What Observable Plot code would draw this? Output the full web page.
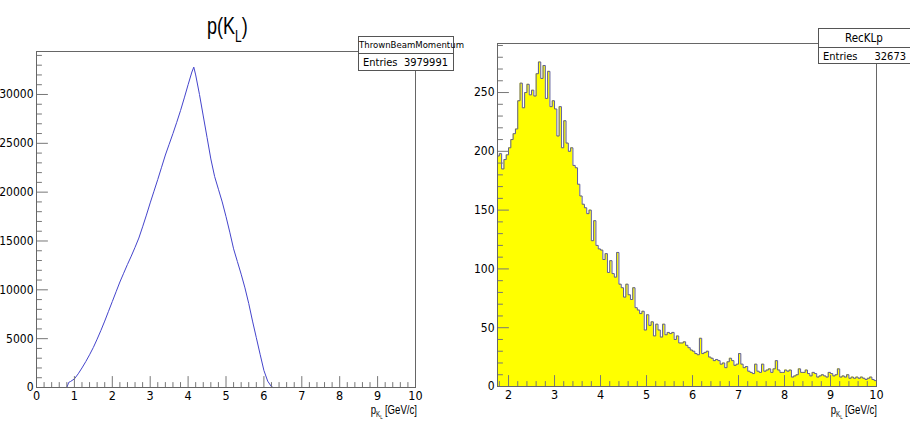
<!DOCTYPE html>
<html><head><meta charset="utf-8">
<script src="https://cdn.jsdelivr.net/npm/d3@7"></script>
<script src="https://cdn.jsdelivr.net/npm/@observablehq/plot@0.6"></script>
<style>
body{margin:0;background:#fff;}
#wrap{position:relative;width:910px;height:421px;overflow:hidden;background:#fff;
  font-family:"DejaVu Sans Condensed","Liberation Sans Narrow",sans-serif;color:#000;}
.panel{position:absolute;top:0;width:455px;height:421px;}
.title{position:absolute;font-family:"Liberation Sans",Arial,sans-serif;font-size:24px;line-height:1;white-space:nowrap;
  transform:scaleX(0.75);transform-origin:left top;}
.title sub{font-size:16px;vertical-align:-8px;line-height:1;}
.axt{position:absolute;width:140px;font-family:"Liberation Sans",Arial,sans-serif;font-size:13px;line-height:1;white-space:nowrap;
  text-align:right;transform:scaleX(0.74);transform-origin:right top;}
.axt .s1{font-size:8.5px;position:relative;top:3px;}
.axt .s2{font-size:6px;position:relative;top:5px;margin-right:3px;}
.stats{position:absolute;background:#fff;border:1px solid #555;box-sizing:border-box;}
.stats .hd{border-bottom:1px solid #555;text-align:center;white-space:nowrap;}
.stats .row{display:flex;justify-content:space-between;white-space:nowrap;}
</style></head><body>
<div id="wrap">
  <div id="left" class="panel" style="left:0"></div>
  <div id="right" class="panel" style="left:455px"></div>
  <div class="title" style="left:207px;top:14px;">p(K<sub>L</sub>)</div>
  <div class="axt" style="left:277px;top:403px;">p<span class="s1">K</span><span class="s2">L</span>[GeV/c]</div>
  <div class="axt" style="left:737px;top:403px;">p<span class="s1">K</span><span class="s2">L</span>[GeV/c]</div>
  <div class="stats" style="left:358px;top:36px;width:96px;height:35px;">
    <div class="hd" style="font-size:9.5px;height:16px;line-height:16px;">ThrownBeamMomentum</div>
    <div class="row" style="font-size:11px;line-height:17px;padding:0 5px 0 4px;"><span>Entries</span><span>3979991</span></div>
  </div>
  <div class="stats" style="left:818px;top:28px;width:96px;height:36px;">
    <div class="hd" style="font-size:11.5px;height:18px;line-height:18px;padding-right:4px;">RecKLp</div>
    <div class="row" style="font-size:11px;line-height:17px;padding:0 7px 0 4px;"><span>Entries</span><span>32673</span></div>
  </div>
</div>
<script>
// ---- Left panel: thrown beam momentum p(K_L) ----
const thrownP = [0.8,0.85,0.9,1.0,1.1,1.2,1.3,1.4,1.5,1.6,1.7,1.8,1.9,2.0,2.1,2.2,2.3,2.4,2.5,2.6,2.7,2.8,2.9,3.0,3.1,3.2,3.3,3.4,3.5,3.6,3.7,3.8,3.9,4.0,4.1,4.15,4.2,4.3,4.4,4.5,4.6,4.7,4.8,4.9,5.0,5.1,5.2,5.3,5.4,5.5,5.6,5.7,5.8,5.9,6.0,6.1,6.2,6.25];
const thrownCounts = [0,520,620,880,1400,2000,2650,3350,4100,4950,5850,6800,7800,8800,9800,10800,11700,12600,13450,14350,15300,16450,17650,18900,20100,21300,22550,23800,24900,26000,27150,28350,29650,31000,32300,32800,32000,30000,27800,25600,23400,21600,20300,19000,17500,15900,14200,12900,11600,10200,8600,6800,5100,3400,1750,650,80,0];
const leftXTicks = [0,1,2,3,4,5,6,7,8,9,10];
const leftYTicks = [0,5000,10000,15000,20000,25000,30000];

// ---- Right panel: reconstructed K_L momentum (RecKLp) ----
const recBinStart = 1.75;
const recBinWidth = 0.05;
const recCounts = [
 196,198,185,193,197,203,210,215,219,243,258,237,250,257,248,252,247,266,276,262,
 273,245,268,238,243,236,213,238,203,226,207,200,203,188,186,172,162,155,152,147,
 150,124,141,120,117,116,108,113,97,107,96,93,114,87,84,76,87,78,74,84,
 67,65,62,64,48,61,52,55,43,53,48,42,53,44,46,45,46,40,43,37,
 37,38,35,33,31,30,28,27,41,28,29,30,25,24,22,23,22,19,20,16,
 21,24,22,18,19,28,19,16,17,13,12,11,19,13,12,19,13,14,15,12,
 15,22,14,12,12,14,13,14,8,9,10,15,12,12,14,11,9,12,11,8,
 9,10,9,8,12,11,9,10,15,8,9,8,10,7,8,7,8,7,8,7,
 6,7,8,6,5];
const rightXTicks = [2,3,4,5,6,7,8,9,10];
const rightYTicks = [0,50,100,150,200,250];

const FONT = '"DejaVu Sans Condensed","Liberation Sans Narrow",sans-serif';
const tickShape = {draw(ctx, l){ ctx.moveTo(0,0); ctx.lineTo(0,-l); }};
const TICK = "#777";

function axesMarks(xDom, yDom, xMajor, xMinorStep, yMajor, yMinorStep){
  const x0 = xDom[0], y0 = yDom[0];
  const xMinor = d3.range(Math.ceil(xDom[0]/xMinorStep)*xMinorStep, xDom[1]+1e-9, xMinorStep)
    .filter(v => !xMajor.some(m => Math.abs(m-v) < 1e-6));
  const yMinor = d3.range(0, yDom[1], yMinorStep)
    .filter(v => !yMajor.some(m => Math.abs(m-v) < 1e-6));
  return [
    Plot.vector(xMinor, {x: d=>d, y: y0, length: 5, rotate: 0, anchor: "start", shape: tickShape, stroke: TICK, strokeWidth: 1}),
    Plot.vector(xMajor, {x: d=>d, y: y0, length: 11, rotate: 0, anchor: "start", shape: tickShape, stroke: TICK, strokeWidth: 1}),
    Plot.vector(yMinor, {x: x0, y: d=>d, length: 5, rotate: 90, anchor: "start", shape: tickShape, stroke: TICK, strokeWidth: 1}),
    Plot.vector(yMajor, {x: x0, y: d=>d, length: 11, rotate: 90, anchor: "start", shape: tickShape, stroke: TICK, strokeWidth: 1}),
    Plot.text(xMajor, {x: d=>d, y: y0, text: d=>String(d), lineAnchor: "top", dy: 4, fontSize: 12.5, fontFamily: FONT, fill: "#000"}),
    Plot.text(yMajor, {x: x0, y: d=>d, text: d=>String(d), textAnchor: "end", dx: -3, fontSize: 12, fontFamily: FONT, fill: "#000"}),
    Plot.frame({stroke: "#666", strokeWidth: 1})
  ];
}

// Left chart
const thrown = thrownP.map((p,i) => ({p, n: thrownCounts[i]}));
const leftX = [0,10], leftY = [0,34400];
const left = Plot.plot({
  width: 455, height: 421,
  marginLeft: 36, marginRight: 40, marginTop: 51, marginBottom: 34,
  x: {domain: leftX, axis: null},
  y: {domain: leftY, axis: null},
  style: {background: "transparent", fontFamily: FONT},
  marks: [
    Plot.line(thrown, {x: "p", y: "n", stroke: "#4444cc", strokeWidth: 1}),
    ...axesMarks(leftX, leftY, leftXTicks, 0.2, leftYTicks, 1000)
  ]
});
document.getElementById("left").appendChild(left);

// Right chart
const rec = recCounts.map((n,i) => ({p: recBinStart + i*recBinWidth, n}));
rec.push({p: recBinStart + recCounts.length*recBinWidth, n: recCounts[recCounts.length-1]});
const rightX = [1.76,10], rightY = [0,291.7];
const right = Plot.plot({
  width: 455, height: 421,
  marginLeft: 42, marginRight: 34, marginTop: 43, marginBottom: 35,
  x: {domain: rightX, axis: null},
  y: {domain: rightY, axis: null},
  style: {background: "transparent", fontFamily: FONT},
  marks: [
    Plot.areaY(rec, {x: "p", y: "n", curve: "step-after", fill: "#ffff00", clip: true}),
    Plot.line(rec, {x: "p", y: "n", curve: "step-after", stroke: "#5c5c99", strokeWidth: 1, clip: true}),
    ...axesMarks(rightX, rightY, rightXTicks, 0.2, rightYTicks, 10)
  ]
});
document.getElementById("right").appendChild(right);
</script>
</body></html>
